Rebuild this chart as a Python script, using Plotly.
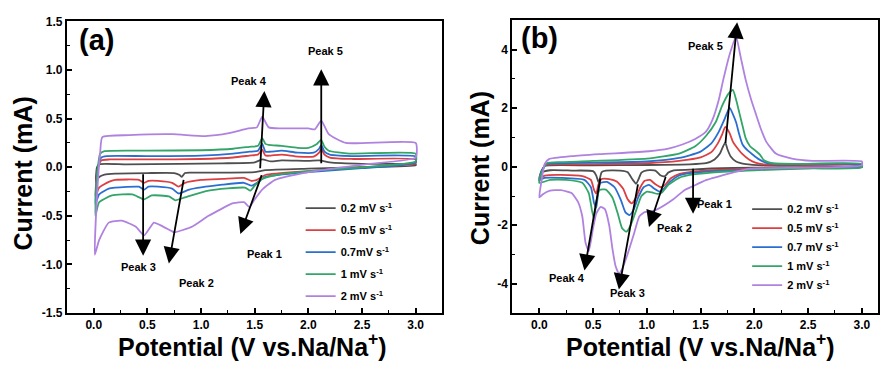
import plotly.graph_objects as go

# ---------------- data: panel (a) ----------------
series_names_a = ["0.2 mV s<sup>-1</sup>", "0.5 mV s<sup>-1</sup>", "0.7mV s<sup>-1</sup>",
                  "1 mV s<sup>-1</sup>", "2 mV s<sup>-1</sup>"]
series_names_b = ["0.2 mV s<sup>-1</sup>", "0.5 mV s<sup>-1</sup>", "0.7 mV s<sup>-1</sup>",
                  "1 mV s<sup>-1</sup>", "2 mV s<sup>-1</sup>"]
colors = ["#4f4f4f", "#dc3f42", "#2a6fd0", "#34a568", "#b082e0"]

a_gray_x = [0.02, 0.03, 0.05, 0.3, 0.8, 1.2, 1.5, 1.57, 1.65, 1.75, 2.0, 2.1, 2.2, 2.5, 3.0,
            3.0, 2.5, 2.0, 1.6, 1.55, 1.5, 1.2, 0.9, 0.85, 0.82, 0.8, 0.75, 0.5, 0.2, 0.1, 0.05, 0.02]
a_gray_y = [-0.15, 0.0, 0.03, 0.03, 0.035, 0.04, 0.05, 0.08, 0.06, 0.07, 0.065, 0.07, 0.05, 0.035, 0.03,
            0.02, 0.0, -0.015, -0.03, -0.04, -0.05, -0.055, -0.055, -0.06, -0.1, -0.08, -0.06, -0.06, -0.065, -0.075, -0.1, -0.15]

a_red_x = [0.015, 0.04, 0.07, 0.15, 0.5, 1.0, 1.3, 1.45, 1.53, 1.57, 1.6, 1.65, 1.75, 1.9, 2.05, 2.1, 2.12, 2.15, 2.2, 2.4, 3.0,
           3.0, 2.5, 2.0, 1.6, 1.52, 1.47, 1.4, 1.2, 1.0, 0.85, 0.79, 0.73, 0.6, 0.51, 0.47, 0.42, 0.2, 0.14, 0.05, 0.015]
a_red_y = [-0.3, 0.0, 0.07, 0.08, 0.08, 0.085, 0.1, 0.12, 0.13, 0.18, 0.12, 0.12, 0.13, 0.11, 0.11, 0.15, 0.19, 0.13, 0.1, 0.085, 0.08,
           0.04, 0.0, -0.04, -0.08, -0.13, -0.14, -0.11, -0.12, -0.13, -0.16, -0.2, -0.16, -0.14, -0.14, -0.16, -0.13, -0.13, -0.15, -0.21, -0.3]

a_blue_x = [0.015, 0.04, 0.07, 0.12, 0.5, 1.0, 1.3, 1.45, 1.53, 1.57, 1.6, 1.65, 1.75, 1.9, 2.05, 2.1, 2.12, 2.15, 2.2, 2.4, 3.0,
            3.0, 2.5, 2.0, 1.6, 1.52, 1.47, 1.4, 1.2, 0.89, 0.79, 0.73, 0.6, 0.51, 0.47, 0.42, 0.2, 0.14, 0.05, 0.015]
a_blue_y = [-0.38, 0.0, 0.10, 0.115, 0.115, 0.12, 0.14, 0.16, 0.17, 0.24, 0.16, 0.16, 0.17, 0.15, 0.15, 0.19, 0.23, 0.16, 0.13, 0.115, 0.11,
            0.05, -0.01, -0.05, -0.1, -0.16, -0.19, -0.16, -0.18, -0.23, -0.27, -0.22, -0.2, -0.2, -0.23, -0.2, -0.21, -0.22, -0.28, -0.38]

a_green_x = [0.015, 0.03, 0.06, 0.1, 0.5, 1.0, 1.3, 1.45, 1.53, 1.57, 1.6, 1.63, 1.75, 1.9, 2.0, 2.08, 2.12, 2.15, 2.19, 2.38, 3.0,
             3.0, 2.5, 2.0, 1.7, 1.57, 1.5, 1.46, 1.41, 1.07, 0.85, 0.76, 0.7, 0.54, 0.47, 0.36, 0.17, 0.05, 0.015]
a_green_y = [-0.5, -0.1, 0.14, 0.165, 0.17, 0.175, 0.19, 0.21, 0.22, 0.30, 0.24, 0.23, 0.22, 0.2, 0.2, 0.24, 0.28, 0.21, 0.17, 0.14, 0.14,
             0.06, 0.0, -0.04, -0.08, -0.12, -0.19, -0.24, -0.21, -0.24, -0.31, -0.34, -0.3, -0.29, -0.33, -0.28, -0.29, -0.36, -0.5]

a_purple_x = [0.01, 0.03, 0.06, 0.08, 0.33, 0.73, 1.04, 1.26, 1.44, 1.52, 1.57, 1.63, 1.75, 2.0, 2.06, 2.12, 2.19, 2.35, 3.0,
              3.0, 2.53, 2.0, 1.69, 1.57, 1.5, 1.45, 1.4, 1.3, 1.07, 0.92, 0.75, 0.73, 0.61, 0.56, 0.47, 0.39, 0.26, 0.14, 0.05, 0.01]
a_purple_y = [-0.9, -0.3, 0.15, 0.31, 0.33, 0.34, 0.32, 0.35, 0.40, 0.41, 0.52, 0.41, 0.40, 0.40, 0.39, 0.48, 0.34, 0.25, 0.25,
              0.1, 0.03, -0.05, -0.13, -0.23, -0.33, -0.41, -0.36, -0.37, -0.5, -0.61, -0.67, -0.66, -0.59, -0.57, -0.70, -0.61, -0.55, -0.57, -0.75, -0.9]

# ---------------- data: panel (b) ----------------
b_gray_x = [0.0, 0.02, 0.05, 0.1, 0.5, 1.0, 1.4, 1.55, 1.63, 1.68, 1.71, 1.73, 1.75, 1.78, 1.83, 1.92, 2.1, 3.0,
            3.0, 2.5, 2.0, 1.6, 1.4, 1.25, 1.2, 1.17, 1.13, 1.08, 1.0, 0.95, 0.92, 0.9, 0.87, 0.82, 0.75, 0.62, 0.58, 0.56, 0.55, 0.53, 0.5, 0.3, 0.1, 0.02, 0.0]
b_gray_y = [-0.5, -0.2, 0.03, 0.05, 0.05, 0.06, 0.08, 0.12, 0.25, 0.45, 0.7, 0.82, 0.6, 0.35, 0.18, 0.09, 0.05, 0.05,
            0.02, -0.01, -0.03, -0.06, -0.1, -0.12, -0.2, -0.32, -0.3, -0.13, -0.12, -0.2, -0.45, -0.58, -0.45, -0.18, -0.13, -0.13, -0.18, -0.45, -0.53, -0.3, -0.15, -0.13, -0.12, -0.2, -0.5]

b_red_x = [0.0, 0.02, 0.06, 0.15, 0.5, 1.0, 1.3, 1.5, 1.6, 1.66, 1.7, 1.73, 1.77, 1.8, 1.85, 1.89, 1.95, 2.01, 2.1, 2.5, 3.0,
           3.0, 2.5, 2.0, 1.6, 1.4, 1.3, 1.22, 1.17, 1.13, 1.08, 1.03, 0.98, 0.94, 0.9, 0.86, 0.82, 0.78, 0.72, 0.65, 0.58, 0.55, 0.53, 0.51, 0.48, 0.4, 0.2, 0.05, 0.0]
b_red_y = [-0.4, -0.15, 0.06, 0.08, 0.09, 0.12, 0.2, 0.32, 0.5, 0.8, 1.1, 1.36, 1.15, 0.86, 0.6, 0.43, 0.25, 0.14, 0.08, 0.07, 0.07,
           0.0, -0.02, -0.06, -0.12, -0.18, -0.25, -0.4, -0.62, -0.7, -0.6, -0.45, -0.48, -0.7, -1.05, -1.25, -1.1, -0.75, -0.5, -0.42, -0.42, -0.6, -0.92, -0.8, -0.45, -0.32, -0.28, -0.3, -0.4]

b_blue_x = [0.0, 0.02, 0.07, 0.2, 0.5, 1.0, 1.3, 1.49, 1.6, 1.67, 1.72, 1.77, 1.8, 1.83, 1.86, 1.89, 1.94, 1.98, 2.04, 2.12, 2.3, 3.0,
            3.0, 2.5, 2.0, 1.6, 1.4, 1.3, 1.22, 1.16, 1.12, 1.07, 1.02, 0.97, 0.92, 0.88, 0.84, 0.8, 0.76, 0.7, 0.63, 0.57, 0.55, 0.53, 0.51, 0.48, 0.42, 0.2, 0.05, 0.0]
b_blue_y = [-0.45, -0.15, 0.1, 0.12, 0.14, 0.18, 0.3, 0.5, 0.8, 1.2, 1.6, 2.02, 1.8, 1.52, 1.1, 0.76, 0.55, 0.43, 0.26, 0.12, 0.09, 0.08,
            -0.01, -0.04, -0.09, -0.16, -0.22, -0.3, -0.5, -0.75, -0.85, -0.75, -0.62, -0.7, -1.05, -1.45, -1.65, -1.55, -1.15, -0.7, -0.52, -0.55, -0.8, -1.4, -1.25, -0.7, -0.45, -0.38, -0.38, -0.45]

b_green_x = [0.0, 0.02, 0.07, 0.2, 0.5, 1.0, 1.3, 1.45, 1.55, 1.64, 1.7, 1.76, 1.8, 1.83, 1.86, 1.89, 1.92, 1.96, 2.01, 2.05, 2.09, 2.17, 2.4, 3.0,
             3.0, 2.5, 2.0, 1.6, 1.4, 1.3, 1.2, 1.14, 1.1, 1.05, 1.0, 0.95, 0.9, 0.85, 0.81, 0.77, 0.73, 0.68, 0.62, 0.56, 0.53, 0.51, 0.49, 0.46, 0.4, 0.25, 0.1, 0.0]
b_green_y = [-0.55, -0.2, 0.12, 0.16, 0.2, 0.28, 0.45, 0.7, 1.05, 1.52, 2.08, 2.5, 2.63, 2.3, 1.85, 1.4, 0.97, 0.7, 0.55, 0.42, 0.22, 0.12, 0.1, 0.1,
             -0.02, -0.06, -0.12, -0.2, -0.28, -0.38, -0.62, -0.88, -0.93, -0.88, -0.85, -1.0, -1.5, -2.0, -2.22, -2.1, -1.6, -1.05, -0.78, -0.8, -1.2, -1.8, -1.5, -0.9, -0.55, -0.45, -0.45, -0.55]

b_purple_x = [0.0, 0.02, 0.05, 0.09, 0.3, 0.56, 1.02, 1.2, 1.33, 1.45, 1.55, 1.61, 1.67, 1.71, 1.77, 1.83, 1.87, 1.92, 1.97, 2.01, 2.06, 2.11, 2.2, 2.35, 2.54, 3.0,
              3.0, 2.5, 1.95, 1.8, 1.55, 1.42, 1.35, 1.24, 1.1, 1.05, 0.98, 0.93, 0.88, 0.82, 0.77, 0.74, 0.71, 0.68, 0.65, 0.61, 0.57, 0.53, 0.5, 0.46, 0.43, 0.4, 0.36, 0.3, 0.2, 0.1, 0.03, 0.0]
b_purple_y = [-1.05, -0.5, 0.1, 0.26, 0.36, 0.43, 0.53, 0.62, 0.76, 0.95, 1.2, 1.6, 2.3, 2.96, 3.84, 4.45, 3.8, 2.96, 2.3, 1.85, 1.3, 0.86, 0.45, 0.28, 0.2, 0.18,
              0.05, -0.03, -0.07, -0.2, -0.46, -0.68, -0.8, -1.13, -1.45, -1.52, -1.55, -1.7, -2.3, -3.0, -3.5, -3.64, -3.4, -2.8, -2.0, -1.45, -1.37, -1.6, -2.1, -2.88, -2.6, -1.7, -1.2, -0.9, -0.8, -0.82, -0.95, -1.05]

# arrows: tail -> head, and peak labels
a_arrow_tail_x = [1.57, 0.84, 0.46, 1.55, 2.12]
a_arrow_tail_y = [-0.066, -0.115, -0.056, -0.026, 0.026]
a_arrow_head_x = [1.366, 0.70, 0.46, 1.59, 2.12]
a_arrow_head_y = [-0.687, -0.99, -0.91, 0.785, 1.007]
a_label_text = ["Peak 1", "Peak 2", "Peak 3", "Peak 4", "Peak 5"]
a_label_x = [1.59, 0.953, 0.42, 1.444, 2.16]
a_label_y = [-0.891, -1.195, -1.023, 0.891, 1.195]

b_arrow_tail_x = [1.43, 1.18, 0.92, 0.57, 1.73]
b_arrow_tail_y = [-0.02, -0.3, -0.55, -0.35, 0.76]
b_arrow_head_x = [1.43, 1.02, 0.74, 0.42, 1.84]
b_arrow_head_y = [-1.61, -2.06, -4.2, -3.55, 4.94]
b_label_text = ["Peak 1", "Peak 2", "Peak 3", "Peak 4", "Peak 5"]
b_label_x = [1.63, 1.254, 0.82, 0.257, 1.548]
b_label_y = [-1.26, -2.08, -4.33, -3.81, 4.12]

a_ytick_vals = [-1.5, -1.0, -0.5, 0.0, 0.5, 1.0, 1.5]
a_ytick_text = ["-1.5", "-1.0", "-0.5", "0.0", "0.5", "1.0", "1.5"]
b_ytick_vals = [-4, -2, 0, 2, 4]
b_ytick_text = ["-4", "-2", "0", "2", "4"]
xtick_vals = [0.0, 0.5, 1.0, 1.5, 2.0, 2.5, 3.0]
xtick_text = ["0.0", "0.5", "1.0", "1.5", "2.0", "2.5", "3.0"]

FONT = "Liberation Sans, Arial, sans-serif"
W, H = 880, 372

fig = go.Figure()

a_sets = [(a_gray_x, a_gray_y), (a_red_x, a_red_y), (a_blue_x, a_blue_y), (a_green_x, a_green_y), (a_purple_x, a_purple_y)]
b_sets = [(b_gray_x, b_gray_y), (b_red_x, b_red_y), (b_blue_x, b_blue_y), (b_green_x, b_green_y), (b_purple_x, b_purple_y)]

for i, (xs, ys) in enumerate(a_sets):
    fig.add_trace(go.Scatter(x=xs, y=ys, mode="lines", name=series_names_a[i], legendgroup="a%d" % i,
                             line=dict(color=colors[i], width=1.8, shape="spline", smoothing=0.5),
                             xaxis="x", yaxis="y", legend="legend", hoverinfo="skip"))
for i, (xs, ys) in enumerate(b_sets):
    fig.add_trace(go.Scatter(x=xs, y=ys, mode="lines", name=series_names_b[i], legendgroup="b%d" % i,
                             line=dict(color=colors[i], width=1.8, shape="spline", smoothing=0.5),
                             xaxis="x2", yaxis="y2", legend="legend2", hoverinfo="skip"))

def px_x(p):
    return p / W

def px_y(p):
    return (H - p) / H

tickfont = dict(family=FONT, size=12, color="black", weight="bold")
axis_common = dict(showline=True, linecolor="black", linewidth=2, mirror=True,
                   ticks="inside", ticklen=5, tickwidth=1.5, tickcolor="black",
                   showgrid=False, zeroline=False, tickfont=tickfont)
minor_common = dict(ticks="inside", ticklen=3, tickwidth=1.2, tickcolor="black")

fig.update_layout(
    width=W, height=H, margin=dict(l=0, r=0, t=0, b=0),
    paper_bgcolor="white", plot_bgcolor="white",
    xaxis=dict(domain=[px_x(67), px_x(443)], range=[-0.25, 3.25], anchor="y",
               tickmode="array", tickvals=xtick_vals, ticktext=xtick_text,
               minor=dict(dtick=0.25, tick0=0, **minor_common), **axis_common),
    yaxis=dict(domain=[px_y(318), px_y(15)], range=[-1.5, 1.5], anchor="x",
               tickmode="array", tickvals=a_ytick_vals, ticktext=a_ytick_text,
               minor=dict(dtick=0.25, tick0=0, **minor_common), **axis_common),
    xaxis2=dict(domain=[px_x(513), px_x(879)], range=[-0.25, 3.15], anchor="y2",
                tickmode="array", tickvals=xtick_vals, ticktext=xtick_text,
                minor=dict(dtick=0.25, tick0=0, **minor_common), **axis_common),
    yaxis2=dict(domain=[px_y(318), px_y(14)], range=[-5, 5], anchor="x2",
                tickmode="array", tickvals=b_ytick_vals, ticktext=b_ytick_text,
                minor=dict(dtick=1, tick0=0, **minor_common), **axis_common),
    legend=dict(x=px_x(301), y=px_y(194), xanchor="left", yanchor="top",
                bgcolor="rgba(0,0,0,0)", itemwidth=30, tracegroupgap=3,
                font=dict(family=FONT, size=11, color="black", weight="bold")),
    legend2=dict(x=px_x(748), y=px_y(195), xanchor="left", yanchor="top",
                 bgcolor="rgba(0,0,0,0)", itemwidth=30, tracegroupgap=0,
                 font=dict(family=FONT, size=11, color="black", weight="bold")),
)

anns = []
# arrows
for xr, yr, tx, ty, hx, hy in [("x", "y", a_arrow_tail_x, a_arrow_tail_y, a_arrow_head_x, a_arrow_head_y),
                               ("x2", "y2", b_arrow_tail_x, b_arrow_tail_y, b_arrow_head_x, b_arrow_head_y)]:
    for k in range(len(tx)):
        anns.append(dict(x=hx[k], y=hy[k], ax=tx[k], ay=ty[k], xref=xr, yref=yr, axref=xr, ayref=yr,
                         showarrow=True, arrowhead=2, arrowsize=1.8, arrowwidth=1.8, arrowcolor="black",
                         standoff=0, startstandoff=0, text=""))
# peak labels
for xr, yr, lt, lx, ly in [("x", "y", a_label_text, a_label_x, a_label_y),
                           ("x2", "y2", b_label_text, b_label_x, b_label_y)]:
    for k in range(len(lt)):
        anns.append(dict(x=lx[k], y=ly[k], xref=xr, yref=yr, text=lt[k], showarrow=False,
                         xanchor="center", yanchor="middle",
                         font=dict(family=FONT, size=11, color="black", weight="bold")))
# panel letters
anns.append(dict(x=px_x(97), y=px_y(34), xref="paper", yref="paper", text="(a)", showarrow=False,
                 xanchor="center", yanchor="middle", font=dict(family=FONT, size=29, color="black", weight="bold")))
anns.append(dict(x=px_x(540), y=px_y(32), xref="paper", yref="paper", text="(b)", showarrow=False,
                 xanchor="center", yanchor="middle", font=dict(family=FONT, size=29, color="black", weight="bold")))
# axis titles
title_font = dict(family=FONT, size=25, color="black", weight="bold")
anns.append(dict(x=px_x(253), y=px_y(351), xref="paper", yref="paper", text="Potential (V vs.Na/Na<sup>+</sup>)",
                 showarrow=False, xanchor="center", yanchor="middle", font=title_font))
anns.append(dict(x=px_x(701), y=px_y(351), xref="paper", yref="paper", text="Potential (V vs.Na/Na<sup>+</sup>)",
                 showarrow=False, xanchor="center", yanchor="middle", font=title_font))
anns.append(dict(x=px_x(24), y=px_y(173), xref="paper", yref="paper", text="Current (mA)", textangle=-90,
                 showarrow=False, xanchor="center", yanchor="middle", font=title_font))
anns.append(dict(x=px_x(480), y=px_y(167), xref="paper", yref="paper", text="Current (mA)", textangle=-90,
                 showarrow=False, xanchor="center", yanchor="middle", font=title_font))

fig.update_layout(annotations=anns)
fig.write_html("out.html", config={"displayModeBar": False},
               post_script="document.body.style.margin='0';document.body.style.overflow='hidden';")
